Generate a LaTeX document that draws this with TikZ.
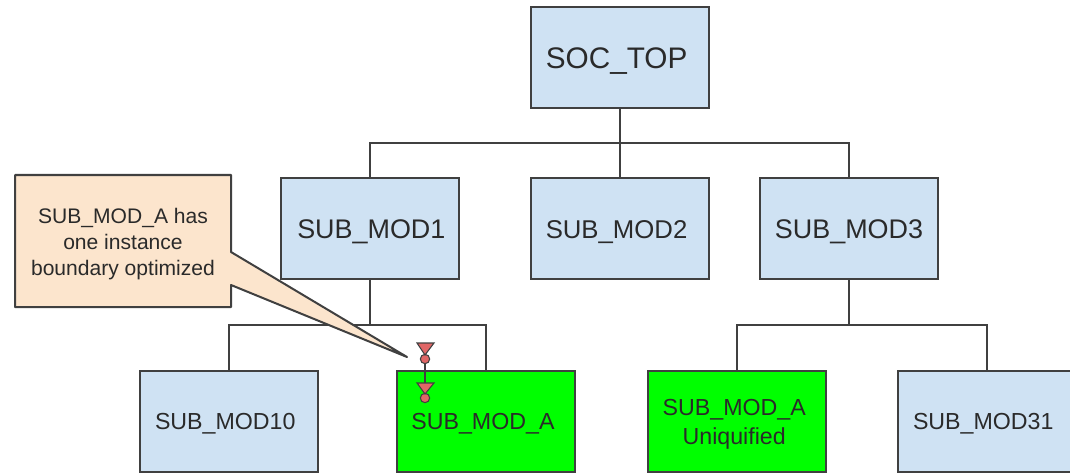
\documentclass[tikz,border=0pt]{standalone}
\usepackage{fontspec}
\setmainfont{Liberation Sans}
\definecolor{boxblue}{HTML}{CFE2F3}
\definecolor{boxgreen}{HTML}{00FF00}
\definecolor{peach}{HTML}{FCE5CD}
\definecolor{markred}{HTML}{E06666}
\definecolor{ink}{HTML}{2A2A2A}
\definecolor{edge}{HTML}{404040}
\tikzset{
  base/.style={draw=edge,line width=1.5pt,outer sep=0pt,minimum width=133.5pt,minimum height=75.5pt,inner sep=0pt,text=ink,align=center,anchor=north west},
  bluebox/.style={base,fill=boxblue},
  greenbox/.style={base,fill=boxgreen},
  wire/.style={draw=edge,line width=1.5pt},
  marktri/.style={fill=markred,draw=edge,line width=0.8pt},
  markdot/.style={circle,fill=markred,draw=edge,line width=0.8pt,minimum size=7pt,inner sep=0pt},
  fa/.style={font=\fontsize{22.3}{26}\selectfont},
  fb/.style={font=\fontsize{20.2}{24}\selectfont},
  fbb/.style={font=\fontsize{19.3}{24}\selectfont},
  fc/.style={font=\fontsize{17.4}{21.75}\selectfont},
  fd/.style={font=\fontsize{15.8}{19.5}\selectfont},
}
% text nudged by #1 to the left and #2/2 downwards
\newcommand{\nudged}[3]{\vbox{\kern#2\hbox{\begin{tabular}{@{}c@{}}#3\end{tabular}\kern#1\kern#1}}}
\begin{document}
\begin{tikzpicture}[x=0.75pt,y=-0.75pt]
\useasboundingbox (0,0) rectangle (1070,474);
\clip (0,0) rectangle (1070,474);
% boxes
\node[bluebox,fa] (top) at (531,7) {\nudged{2.5pt}{6pt}{SOC\_TOP}};
\node[bluebox,fb] (m1) at (281,178) {\nudged{-1pt}{6pt}{SUB\_MOD1}};
\node[bluebox,fbb] (m2) at (531,178) {\nudged{2.6pt}{6pt}{SUB\_MOD2}};
\node[bluebox,fb] (m3) at (760,178) {\nudged{0pt}{6pt}{SUB\_MOD3}};
\node[bluebox,fc] (m10) at (140,371) {\nudged{2.8pt}{3pt}{SUB\_MOD10}};
\node[greenbox,fc] (ma) at (397,371) {\nudged{2.3pt}{3pt}{SUB\_MOD\_A}};
\node[greenbox,fc] (mu) at (648,371) {\nudged{2.1pt}{5pt}{SUB\_MOD\_A\\Uniquified}};
\node[bluebox,fc] (m31) at (898,371) {\nudged{2.8pt}{3pt}{SUB\_MOD31}};
% junctions
\coordinate (j0) at ([yshift=-26.6pt]top.south);
\coordinate (j1) at ([yshift=-35pt]m1.south);
\coordinate (j3) at ([yshift=-35pt]m3.south);
% connectors
\draw[wire] (top.south) -- (m2.north);
\draw[wire] (m1.north) |- (j0) -| (m3.north);
\draw[wire] (m1.south) -- (j1);
\draw[wire] (m10.north) |- (j1) -| (ma.north);
\draw[wire] (m3.south) -- (j3);
\draw[wire] (mu.north) |- (j3) -| (m31.north);
% callout
\draw[draw=edge,line width=1.5pt,fill=peach,line join=round]
  (15,175) -- (231,175) -- (231,252) -- (407,357) -- (231,285) -- (231,307) -- (15,307) -- cycle;
\node[text=ink,align=center,inner sep=0pt,fd] (note) at (123,244) {SUB\_MOD\_A has\\one instance\\boundary optimized};
% markers
\node[markdot] (d1) at (425,359) {};
\node[markdot] (d2) at (425,398) {};
\draw[marktri] (417,343) -- (434,343) -- (425,355) -- cycle;
\draw[marktri] (417,383) -- (434,383) -- (425,394) -- cycle;
\coordinate (t2) at (425,383);
\draw[wire] (d1) -- (t2);
\end{tikzpicture}
\end{document}
